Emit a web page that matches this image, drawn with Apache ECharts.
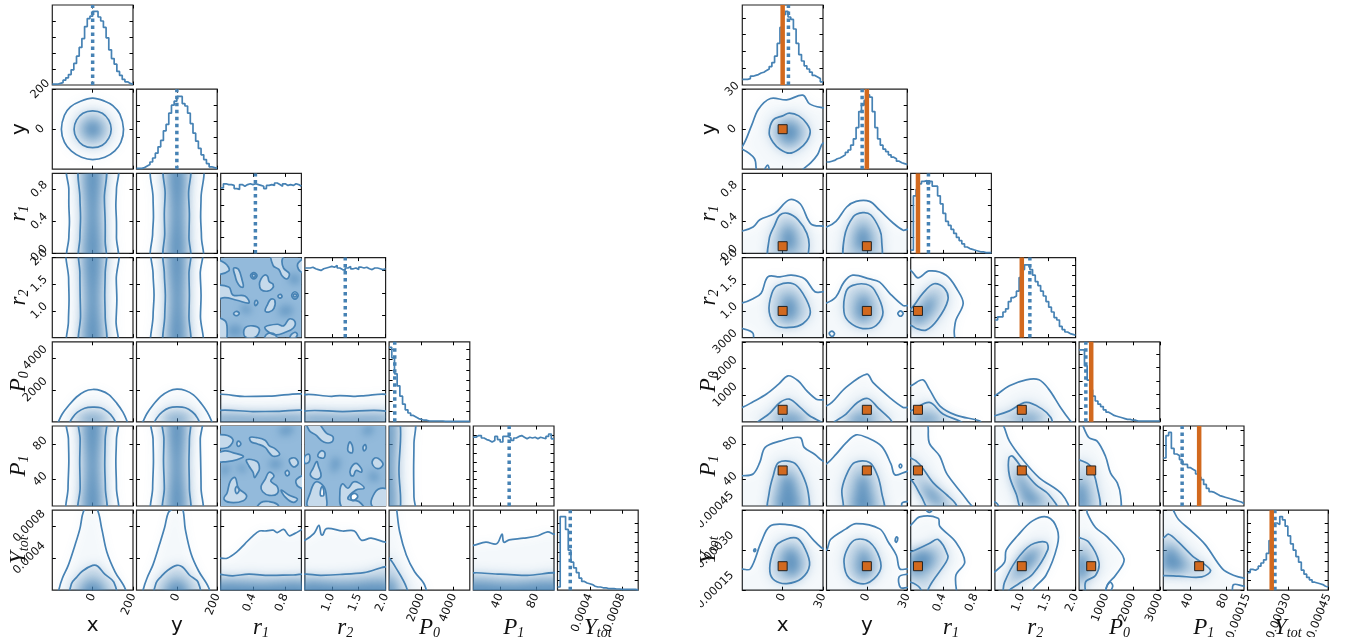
<!DOCTYPE html>
<html><head><meta charset="utf-8">
<style>html,body{margin:0;padding:0;background:#fff;overflow:hidden}#c{width:1348px;height:637px;filter:blur(0.35px)}</style>
<script src="https://cdn.jsdelivr.net/npm/echarts@6/dist/echarts.min.js"></script>
</head><body><div id="c"></div>
<script>
// ---------- parameters ----------
const paramKeys=['x','y','r1','r2','P0','P1','Yt'];
const L_ranges=[[-200,200],[-200,200],[0,1],[0.5,2],[0,5000],[10,100],[0,0.001]];
const R_ranges=[[-30,30],[-30,30],[0,1],[0.5,2],[0,3000],[10,100],[0.00015,0.00045]];
const L_xTicks=[[0,200],[0,200],[0.4,0.8],[1,1.5,2],[2000,4000],[40,80],[0.0004,0.0008]];
const L_yTicks=[[0,200],[0,200],[0,0.4,0.8],[1,1.5,2],[2000,4000],[40,80],[0.0004,0.0008]];
const R_xTicks=[[0,30],[0,30],[0.4,0.8],[1,1.5,2],[1000,2000,3000],[40,80],[0.00015,0.0003,0.00045]];
const R_yTicks=[[0,30],[0,30],[0,0.4,0.8],[1,1.5,2],[1000,2000,3000],[40,80],[0.00015,0.0003,0.00045]];
const L_digits=[0,0,1,1,0,0,4];
const R_digits=[0,0,1,1,0,0,5];
const L_yMargin=[12,12,13,13,17,12,23];
const R_yMargin=[10,10,13,13,17,12,27];
const axisNames=['x','y','{i|r}{s|1}','{i|r}{s|2}','{i|P}{s|0}','{i|P}{s|1}','{i|Y}{s|tot}'];
const ytotUnit=1e-4;

// ---------- histograms (height as percent of panel) ----------
const L_h_x=[1,1,2,3,6,9,13,19,27,36,47,58,73,83,86,92,92,85,80,72,59,44,33,26,17,12,7,4,2,1];
const L_h_y=[1,1,2,4,6,9,14,20,28,36,48,56,70,80,85,91,91,82,79,70,57,45,35,26,18,12,7,3,2,1];
const L_h_r1=[82,87,86,86,85,81,80,86,84,86,87,86,87,86,85,84,81,85,86,85,88,86,84,87,85,86,85,87,86,84];
const L_h_r2=[87,87,88,86,85,84,86,87,88,89,88,90,87,85,84,87,89,86,87,85,88,87,88,86,85,87,87,86,85,86];
const L_h_P0=[93,80,60,45,32,22,15,11,8,6,4,3,2,2,1,1,1,1,1,1,0.5,0.5,0.5,0.5,0.5,0.5,0.5,0.5,0.5,0.5];
const L_h_P1=[86,88,88,85,83,82,80,82,87,83,80,87,87,85,82,85,87,88,86,84,86,85,86,84,86,85,84,87,90,84];
const L_h_Yt=[4,92,92,76,50,35,28,22,15,11,9,8,7,5,4,4,3,3,2,2,2,1.5,1.5,1,1,1,1,1,1,0.5];
const R_h_x=[7,7,8,11,12,13,15,16,18,20,23,28,36,52,72,88,92,85,82,70,52,38,30,24,20,16,12,10,8,4];
const R_h_y=[9,10,11,13,14,16,18,21,24,30,38,52,72,80,86,93,90,72,52,38,30,25,22,18,15,13,10,8,7,6];
const R_h_r1=[4,72,80,87,90,91,87,90,84,84,72,62,50,40,35,30,25,20,16,12,8,6,5,4,3,2,2,1,1,1];
const R_h_r2=[22,26,26,32,36,45,50,52,58,75,85,91,91,85,78,70,65,58,52,45,38,32,25,22,14,10,7,5,4,3];
const R_h_P0=[90,90,70,52,40,32,26,22,19,15,12,10,8,7,6,5,4,3,3,2,2,1,1,1,1,1,1,1,1,1];
const R_h_P1=[60,88,92,72,65,63,58,52,52,48,46,44,40,36,33,27,22,18,17,15,13,12,11,10,9,8,7,6,5,3];
const R_h_Yt=[22,26,25,27,30,34,38,46,62,80,84,82,92,88,80,68,58,50,42,35,25,20,16,13,10,9,8,7,5,4];
const L_hTicks=[[20,40,60,80],[20,40,60,80],[20,40,60,80],[28,56,84],[13,26,39,52,65,78,91],[11,22,33,44,55,66,77,88],[12,24,36,48,60,72,84]];
const R_hTicks=[[21,42,63,84],[20,40,60,80],[20,40,60,80],[13,26,39,52,65,78,91],[17,34,51,68,85],[19,38,57,76,95],[12,24,36,48,60,72,84]];
const L_medians=[0,0,0.43,1.25,350,50,0.000158];
const R_medians=[4.3,-3.5,0.22,1.15,250,31,0.000252];
const R_truth=[0,0,0.09,1.0,450,50,0.00024];

// ---------- contours, left corner (Ytot in units of ytotUnit) ----------
const L_y_x={o:[[153,0,135,75,100,118,60,140,0,155,-60,140,-110,112,-140,70,-155,0,-140,-65,-105,-110,-55,-140,0,-152,60,-140,110,-108,140,-65]],
 i:[[92,0,80,45,48,80,0,92,-48,80,-80,45,-92,0,-80,-45,-48,-80,0,-92,48,-80,80,-45]],c:[[48,0,32,34,0,48,-34,34,-48,0,-34,-34,0,-48,34,-34]]};
const L_r1_x={o:[[-118,-.1,-118,.2,-115,.4,-118,.6,-118,.8,-120,1.1,118,1.1,118,.8,115,.6,118,.4,118,.2,116,-.1]],
 i:[[-62,-.1,-63,.2,-60,.45,-63,.7,-62,1.1,60,1.1,58,.7,62,.4,62,.15,60,-.1]],c:[[-34,-.1,-32,.5,-34,1.1,34,1.1,32,.5,34,-.1]]};
const L_r1_y={o:[[-118,-.1,-120,.25,-116,.45,-118,.7,-117,1.1,120,1.1,120,.7,118,.45,122,.2,120,-.1]],
 i:[[-60,-.1,-60,.25,-62,.5,-58,.75,-60,1.1,61,1.1,58,.75,62,.5,60,.2,61,-.1]],c:[[-34,-.1,-30,.5,-34,1.1,32,1.1,34,.5,32,-.1]]};
const L_r2_x={o:[[-118,.3,-120,.8,-117,1.2,-119,1.6,-118,2.2,118,2.2,117,1.6,120,1.2,116,.8,116,.3]],
 i:[[-62,.3,-60,.9,-62,1.3,-63,1.7,-61,2.2,60,2.2,62,1.7,60,1.3,62,.9,60,.3]],c:[[-36,.3,-32,1.2,-35,2.2,35,2.2,33,1.2,36,.3]]};
const L_r2_y={o:[[-115,.3,-118,.9,-113,1.3,-118,1.7,-116,2.2,118,2.2,116,1.7,120,1.3,117,.9,118,.3]],
 i:[[-60,.3,-60,.9,-57,1.3,-62,1.7,-60,2.2,62,2.2,60,1.7,62,1.3,60,.9,60,.3]],c:[[-34,.3,-30,1.2,-34,2.2,30,2.2,34,1.2,32,.3]]};
const L_P0_x={o:[[-172,-100,-168,50,-150,500,-120,1000,-80,1550,-40,1900,0,2020,40,1950,80,1700,120,1150,150,600,170,50,172,-100]],
 i:[[-110,-100,-100,250,-75,600,-40,850,0,920,40,880,75,620,100,280,110,-100]],c:[[-62,-100,-42,200,0,330,42,200,62,-100]]};
const L_P0_y={o:[[-172,-100,-166,60,-148,520,-118,1050,-78,1600,-38,1930,0,2040,42,1960,82,1680,122,1130,150,620,172,50,174,-100]],
 i:[[-108,-100,-98,260,-72,620,-38,870,0,930,42,880,76,630,100,280,108,-100]],c:[[-60,-100,-40,200,0,330,40,200,60,-100]]};
const L_r2_r1={bg:1,b:[[.5,1.4,.58,1.37,.64,1.42,.65,1.5,.6,1.55,.58,1.65,.54,1.67,.5,1.6,.48,1.5],
 [.16,1.8,.22,1.78,.27,1.55,.28,1.45,.24,1.46,.2,1.55,.18,1.65],
 [.63,2.1,.65,1.85,.72,1.78,.76,1.66,.82,1.6,.85,1.7,.78,1.8,.76,1.95,.8,2.1],
 [-.1,1.95,.05,1.9,.1,1.75,-.1,1.7],
 [-.1,1.45,.1,1.45,.15,1.3,.3,1.28,.35,1.15,.2,1.2,.05,1.25,-.1,1.2],
 [.55,1.0,.6,.98,.66,1.05,.67,1.2,.62,1.22,.58,1.12],
 [.55,.7,.7,.75,.78,.72,.85,.85,.92,.8,.9,.68,.8,.6,.68,.55,.58,.62],
 [.3,.52,.3,.68,.4,.72,.48,.65,.42,.5],[.55,.4,.56,.55,.65,.58,.7,.5,.72,.4],
 [-.1,.85,.05,.82,.08,.65,.05,.4,-.1,.4],[.86,.52,.92,.6,.95,.55,.9,.48],
 [.37,1.66,.41,1.72,.45,1.66,.41,1.6],[.88,1.29,.92,1.36,.96,1.29,.92,1.22],
 [.43,1.1,.46,1.15,.44,1.2,.42,1.15],[.16,.95,.2,.99,.23,.95,.19,.91],[.71,1.28,.74,1.31,.76,1.27,.73,1.24],[.96,1.9,1.1,2.0,1.1,1.7,.98,1.75]],
 m:[[.39,1.66,.41,1.69,.43,1.66,.41,1.63],[.9,1.29,.92,1.32,.94,1.29,.92,1.26]],
 d:[[.72,.95,.82,.9,.9,1.0,.85,1.1,.75,1.08],[.25,1.0,.35,.95,.38,1.05,.28,1.1],[.1,.55,.25,.55,.25,.7,.12,.72],[.85,1.55,.95,1.5,.98,1.62,.88,1.7]]};
const L_P1_x={o:[[-120,0,-122,30,-118,60,-120,85,-122,110,118,110,118,85,115,60,118,30,116,0]],
 i:[[-66,0,-62,30,-64,60,-62,85,-64,110,62,110,62,85,60,55,63,30,62,0]],c:[[-36,0,-32,55,-36,110,34,110,30,55,34,0]]};
const L_P1_y={o:[[-118,0,-120,30,-116,60,-118,85,-120,110,118,110,116,85,118,60,120,30,118,0]],
 i:[[-64,0,-62,30,-66,60,-64,85,-66,110,60,110,62,85,60,60,62,30,60,0]],c:[[-34,0,-30,55,-34,110,32,110,30,55,34,0]]};
const L_P1_r1={bg:1,b:[[.36,87,.44,87,.55,84,.6,78,.68,74,.73,68,.65,66,.6,70,.55,76,.45,80,.38,82],
 [-.1,88,.05,90,.15,85,.12,78,.05,75,-.1,76],[-.1,66,.05,72,.15,70,.28,66,.2,62,.08,60,-.1,60],
 [.32,62,.45,60,.48,52,.45,46,.42,42,.4,48,.35,55],[.08,25,.12,38,.18,42,.22,30,.32,22,.28,16,.12,14,.04,18],
 [.5,32,.52,26,.6,22,.7,24,.7,32,.62,38,.66,44,.6,48,.55,40],[.85,62,.92,64,.96,58,.9,54],[.8,48,.83,50,.85,46,.82,44],
 [.75,28,.85,22,.95,18,.9,14,.8,20],[.45,6,.5,14,.6,15,.7,12,.72,6],[.2,80,.22,83,.25,80,.22,77],[.94,40,1.1,45,1.1,30,.96,32]],
 m:[[.18,28,.2,32,.23,28,.2,24]],d:[[.72,92,.85,90,.9,98,.78,100],[.6,55,.72,52,.75,60,.64,62],[.22,50,.3,48,.3,55,.22,56],[.02,45,.1,48,.1,55,.02,55]]};
const L_P1_r2={bg:1,b:[[.55,105,.58,95,.7,90,.85,82,1.0,82,1.02,88,.9,92,.8,100,.75,105],
 [.74,66,.85,64,.87,70,.8,72],[1.3,72,1.38,70,1.38,78,1.33,82],[1.58,76,1.62,79,1.64,75,1.6,72],
 [1.35,45,1.35,52,1.45,58,1.55,52,1.55,48,1.45,50,1.4,44],[1.75,58,1.85,52,1.95,56,1.9,62,1.8,64],
 [.6,45,.72,40,.8,44,.75,55,.72,60,.65,52],[.55,10,.6,25,.7,37,.85,32,.9,20,.88,8],
 [1.2,8,1.15,25,1.2,35,1.3,30,1.4,37,1.5,36,1.6,30,1.45,28,1.3,18,1.5,15,1.6,6],[1.75,10,1.8,25,1.95,30,2.1,25,2.1,5],[.5,66,.58,68,.58,60,.5,58]],
 h:[[.79,22,.85,22,.83,32,.8,30],[1.38,16,1.48,20,1.44,24,1.36,22]],d:[[1.0,48,1.12,52,1.15,62,1.02,64],[1.6,90,1.75,92,1.75,100,1.6,98],[1.7,40,1.85,38,1.85,46,1.72,48]]};
const L_P1_P0={o:[[-300,0,1560,0,1540,20,1520,50,1540,80,1520,110,-300,110]],i:[[-300,0,620,0,610,50,615,110,-300,110]],c:[[-300,0,280,0,260,55,280,110,-300,110]]};
const L_P0_r1={o:[[-.1,1580,.3,1580,.6,1600,1.1,1590,1.1,-100,-.1,-100]],i:[[-.1,650,.4,640,.7,650,1.1,650,1.1,-100,-.1,-100]],c:[[-.1,250,.5,270,1.1,250,1.1,-100,-.1,-100]]};
const L_P0_r2={o:[[.4,1580,1.0,1590,1.15,1640,1.4,1590,1.55,1620,2.1,1590,2.1,-100,.4,-100]],i:[[.4,620,1.2,640,2.1,620,2.1,-100,.4,-100]],c:[[.4,250,1.2,270,2.1,250,2.1,-100,.4,-100]]};
const L_Yt_x={o:[[-172,-1,-166,.2,-150,1.5,-121,3.1,-88,5.6,-63,7.7,-46,9.8,-22,10.4,20,10.2,45,7.7,70,4.8,111,2.3,161,.2,164,-1]],
 i:[[-108,-1,-105,.8,-80,1.6,-50,2.4,0,3.1,25,3,60,2,105,1,112,-1]],c:[[-60,-1,-35,.9,0,1.2,35,.9,60,-1]]};
const L_Yt_y={o:[[-170,-1,-164,.3,-148,1.5,-118,3.2,-85,5.8,-60,7.9,-42,9.7,-15,10.2,25,10.4,42,7.6,70,4.6,108,2.4,158,.3,162,-1]],
 i:[[-108,-1,-103,.9,-78,1.7,-45,2.5,0,3.1,28,2.9,62,1.9,105,1,110,-1]],c:[[-58,-1,-35,.9,0,1.2,35,.9,58,-1]]};
const L_Yt_r1={o:[[-.1,4,0,4,.08,4,.2,4.8,.3,5.8,.4,6.8,.48,7.4,.55,7.4,.65,7.5,.7,7.2,.78,7.6,.85,6.8,.92,7.1,1.1,7.8,1.1,-1,-.1,-1]],
 i:[[-.1,1.8,.15,1.8,.35,2,.6,1.85,.9,1.9,1.1,1.85,1.1,-1,-.1,-1]],c:[[-.1,.8,.5,.9,1.1,.8,1.1,-1,-.1,-1]]};
const L_Yt_r2={o:[[.4,6.2,.5,6.25,.67,7.1,.76,8.1,.8,7,.83,6.9,.9,7.7,1.2,7.4,1.42,7.4,1.55,6.25,1.73,6.5,2,6,2.1,6,2.1,-1,.4,-1]],
 i:[[.4,1.8,.8,1.85,1.15,1.96,1.6,2.2,2.1,2.8,2.1,-1,.4,-1]],c:[[.4,.9,1.2,.9,2.1,.9,2.1,-1,.4,-1]]};
const L_Yt_P0={o:[[450,10.5,480,9.9,655,7.3,1065,4.4,1580,2.3,2190,.7,2250,-1,-300,-1,-300,10.5]],
 i:[[-300,4.2,0,4,450,2.7,1065,.4,1120,-1,-300,-1]],c:[[-300,1.5,220,1.2,450,-1,-300,-1]]};
const L_Yt_P1={o:[[0,5.5,10,5.6,24,6,36,5.8,42,7,44,6,50,6.3,66,6.5,82,6.8,93,7.3,100,7,110,7,110,-1,0,-1]],
 i:[[0,1.85,40,2,70,1.85,110,1.95,110,-1,0,-1]],c:[[0,.9,50,.9,110,.9,110,-1,0,-1]]};

// ---------- contours, right corner ----------
const R_y_x={o:[[-35,-15,-30,-13,-23,3,-18,15,-9,23,3,22,15,25.5,20,19,30,16,35,16,35,-12,30,-10.5,26,-19,21,-25,14,-31,10,-35,-8,-35,-11,-27,-15,-32,-19,-32,-21,-22,-30,-15]],
 i:[[-10,-3,-7,7,0,10,5,12,12,10,18,4,20.5,-2,18,-9,12,-15,5,-18,-2,-15,-7,-10]],c:[[-3,-3,0,4,5,6,11,3,13,-3,10,-9,5,-11,0,-9]]};
const R_r1_x={o:[[-35,.28,-30,.28,-22,.33,-17,.42,-6,.5,5,.67,13,.62,21,.37,30,.34,35,.34,35,-.1,-35,-.1]],
 i:[[-9.5,-.1,-10,.18,-6,.35,-2,.48,4,.5,11.5,.42,18,.25,19.6,.08,16,-.1]],c:[[0,.05,-1,.22,4,.36,9,.25,10,.08,5,.02]]};
const R_r1_y={o:[[-35,.33,-30,.33,-23,.4,-15,.58,-8,.65,2,.65,9.5,.54,19.5,.38,27,.29,30,.3,35,.3,35,-.1,-35,-.1]],
 i:[[-15.5,-.1,-16.7,.2,-10,.46,-3,.51,3,.48,9.5,.3,11,.17,9.5,-.1]],c:[[-8,.06,-8,.24,-3,.36,2,.25,3,.08,-2,.02]]};
const R_r2_x={o:[[-35,1.15,-30,1.15,-22,1.23,-16,1.33,-11,1.64,-2,1.64,6.5,1.67,16.5,1.6,24,1.36,30,1.36,35,1.36,35,.3,-21,.3,-22,.58,-30,.67,-35,.67]],
 i:[[-10,.98,-8,1.33,-3.4,1.48,7.8,1.51,15,1.33,20.6,.98,15,.76,5,.69,-4.6,.73]],c:[[0,.85,-1,1.1,3,1.3,8,1.25,11,1,7,.82]]};
const R_r2_y={o:[[-35,1.15,-30,1.15,-23,1.26,-17,1.54,-10.5,1.67,2,1.6,9.5,1.54,17,1.33,27,1.1,30,1.1,35,1.1,35,.3,-35,.3]],
 i:[[-17,.98,-15.5,1.36,-10.5,1.48,-.5,1.5,5.7,1.39,12,.98,7,.73,-3,.67,-13,.79]],c:[[-7,.85,-8,1.1,-4,1.3,1,1.25,3,1,0,.82]],m:[[23,.95,25,1.0,27,.95,25,.9],[-28,.58,-26,.62,-24,.57,-26,.52]]};
const R_r2_r1={o:[[-.1,1.76,0,1.76,.09,1.62,.23,1.75,.44,1.67,.58,1.39,.65,1.14,.56,.83,.54,.64,.52,.3,-.1,.3]],
 i:[[-.1,.7,0,.73,.07,.67,.19,.64,.33,.83,.46,1.2,.42,1.42,.29,1.51,.15,1.33,0,1.04,-.1,1.04]],c:[[0,.8,.1,.78,.22,.92,.3,1.15,.27,1.3,.17,1.15,.08,.98,0,.92]]};
const R_P0_x={o:[[-35,500,-30,540,-22,750,-12,1040,-3,1410,4,1725,11.5,1540,18,1160,25,850,30,825,35,825,35,-100,-35,-100]],
 i:[[-18,-50,-9.5,325,-2,725,5,850,13,540,20,225,29,-50]],c:[[-3,-100,-2,180,7,260,15,100,18,-100]]};
const R_P0_y={o:[[-35,580,-30,600,-26,725,-15.5,1290,0,1790,4.5,1475,17,910,27,540,30,540,35,540,35,-100,-35,-100]],
 i:[[-24,-50,-15.5,290,-7,725,.7,875,8,540,18,-50]],c:[[-14,-100,-10,160,-3,260,3,120,6,-100]]};
const R_P0_r1={o:[[-.1,1300,0,1350,.15,1575,.23,1225,.36,600,.56,250,.85,40,.87,-50,-.1,-50]],
 i:[[-.1,380,0,410,.23,725,.4,290,.6,40,.64,-50,-.1,-50]],c:[[.02,-50,.05,130,.2,240,.34,100,.4,-50]]};
const R_P0_r2={o:[[.4,900,.5,975,.77,1350,1.08,1575,1.32,1575,1.5,1225,1.72,540,1.9,40,1.95,-50,.4,-50]],
 i:[[.4,200,.5,225,.77,410,1.08,725,1.38,475,1.54,160,1.55,-50,.4,-50]],c:[[.85,-50,.95,130,1.2,220,1.32,100,1.35,-50]]};
const R_P1_x={o:[[-35,44,-30,44,-22,46,-17,59,-13,76,-2,83,13,87,16,76,24,68,30,60.6,35,60,35,0,-35,0]],
 i:[[-10,4,-10,25,-7,44,-3,59,8,59,14,47.5,19,25,18,4]],c:[[-4,4,-3,25,1,45,6,45,11,25,12,4]]};
const R_P1_y={o:[[-35,56,-30,57.5,-23,68,-15.5,81,-8,90,0,87,11,77,18,57,21,45,30,49,35,49,35,14,30,15,26,13,26,0,-35,0]],
 i:[[-17.5,12,-18.5,29,-14,49,-9,59,2,59,8,44,11,25,12,4,-17,4]],c:[[-10,4,-9,25,-5,45,-1,45,3,25,4,4]],m:[[24,55,25,57,26,55,25,53]]};
const R_P1_r1={o:[[-.1,105,.19,105,.23,81,.36,66,.44,47.5,.56,32.5,.69,17.5,.77,5,-.1,5]],
 i:[[-.1,64,0,64,.11,57,.28,36,.44,23,.56,12,.56,5,.24,5,.13,21,0,40,-.1,40]],c:[[.08,32,.14,30,.26,15,.42,12,.34,22,.22,32]]};
const R_P1_r2={o:[[.4,108,.62,104,.77,83,1.02,62,1.32,42,1.75,23,1.85,5,.62,5,.55,12,.5,14.5,.4,16]],
 i:[[.76,64,.83,66,1.02,51,1.26,34,1.5,23,1.66,5,1.02,5,.9,23,.77,44]],c:[[.9,45,.98,45,1.16,28,1.38,14,1.1,12,.98,26]]};
const R_P1_P0={o:[[-100,105,50,105,360,87,670,83,980,66,1170,47,1420,36,1545,21,1480,5,-100,5]],
 i:[[-100,62,0,62,420,55,670,32,735,5,-100,5]],c:[[-100,38,200,35,330,18,320,5,-100,5]]};
const R_Yt_x={o:[[-35,2.29,-30,2.29,-24,2.3,-16,3.3,-9.5,3.9,3,3.96,15,3.8,22.6,3.4,30,3.06,35,3.06,35,1,-35,1]],
 i:[[-9.5,2.2,-8,2.8,-3.4,3.25,10,3.46,16.6,3.06,20,2.44,14,1.94,3,1.75,-6,1.87]],c:[[0,2.3,1,2.9,6,3.1,12,2.8,13,2.3,7,2]],m:[[-21.5,3.0,-20.5,3.05,-20,3,-21,2.95]]};
const R_Yt_y={o:[[-35,3,-30,3,-27,3.4,-15.5,3.8,-8,4,9.5,3.8,16,3.3,22,2.8,24.5,2.3,30,2.3,35,2.3,35,2.1,30,2.1,24,2,25,1.6,30,1.6,35,1.6,35,1,-35,1]],
 i:[[-17,2.56,-14,3.1,-8,3.4,2,3.3,9.5,2.7,9.5,2.2,-.5,1.75,-13,1.94]],c:[[-7,2.2,-6,2.8,-2,3.05,2,2.7,3,2.2,-2,2]],m:[[21,3.35,22,3.5,23,3.45,22,3.3]]};
const R_Yt_r1={o:[[-.1,3.8,0,3.94,.11,4.25,.34,4.2,.36,3.9,.56,3.3,.67,2.56,.56,2.06,.54,1,-.1,1]],
 i:[[-.1,2.9,0,2.94,.23,3.25,.34,3.4,.46,2.8,.44,2.56,.22,1.56,.21,1,.11,1.6,0,1.8,-.1,1.8]],c:[[0,2.2,.02,2.85,.2,3,.3,2.7,.18,2.2,.06,2.05]],m:[[.2,4.48,.23,4.55,.26,4.48,.23,4.42]]};
const R_Yt_r2={o:[[.4,2.1,.5,2.2,.68,2.55,.71,3,.92,3.54,1.2,4.1,1.48,4.24,1.66,3.78,1.66,3.17,1.45,2.06,1.2,1.5,1.15,1,.4,1]],
 i:[[.62,1,.65,1.44,.68,1.8,.89,2.6,1.17,3.2,1.45,3.3,1.48,3,1.2,2.1,.95,1.75,.72,1.4,.7,1]],c:[[.85,2,.95,2.5,1.1,2.9,1.3,3,1.25,2.6,1.05,2.2]]};
const R_Yt_P0={o:[[-100,4.6,280,4.6,300,4.4,610,3.85,1045,3.5,1670,2.67,1350,2.05,1050,1.7,850,1,-100,1]],
 i:[[-100,3.45,0,3.47,360,3.3,735,2.55,610,2.05,235,1.8,260,1,-100,1]],c:[[-100,2.9,180,2.8,370,2.4,280,2.1,100,1.9,-100,1.9]],m:[[1000,1.55,1150,1.8,1250,1.65,1100,1.4]]};
const R_Yt_P1={o:[[0,4.6,20,4.6,21.6,4.47,27,4.15,42,3.7,57,3.2,76,2.3,89,2.05,100,1.95,105,1.95,105,1.65,100,1.65,88,1.7,85,1,0,1]],
 i:[[0,3.47,10,3.47,16,3.6,27,3.3,42,2.8,62.6,2.25,53,2,27,2.03,12,2.05,0,2.05]],c:[[10,2.3,12,3.05,20,3.1,30,2.7,36,2.35,22,2.2]]};

const panels={L_y_x,L_r1_x,L_r1_y,L_r2_x,L_r2_y,L_r2_r1,L_P0_x,L_P0_y,L_P0_r1,L_P0_r2,L_P1_x,L_P1_y,L_P1_r1,L_P1_r2,L_P1_P0,L_Yt_x,L_Yt_y,L_Yt_r1,L_Yt_r2,L_Yt_P0,L_Yt_P1,
 R_y_x,R_r1_x,R_r1_y,R_r2_x,R_r2_y,R_r2_r1,R_P0_x,R_P0_y,R_P0_r1,R_P0_r2,R_P1_x,R_P1_y,R_P1_r1,R_P1_r2,R_P1_P0,R_Yt_x,R_Yt_y,R_Yt_r1,R_Yt_r2,R_Yt_P0,R_Yt_P1};

// ---------- build ----------
const COL='#4682b4', ORANGE='#d2691e', OFF=3000, A='70,130,180';
const chunk=a=>{const r=[];for(let i=0;i<a.length;i+=2)r.push([a[i],a[i+1]]);return r;};
const option={animation:false,grid:[],xAxis:[],yAxis:[],series:[],
 graphic:[{type:'rect',silent:true,z:100,shape:{x:660,y:0,width:40,height:637},style:{fill:'#fff'}}]};
const richName={i:{fontFamily:'Liberation Serif',fontStyle:'italic',fontSize:23,color:'#111'},s:{fontFamily:'Liberation Serif',fontStyle:'italic',fontSize:14,color:'#111',verticalAlign:'bottom',padding:[10,0,0,0]}};
const soft=(alpha,blur)=>({soft:1,style:{fill:'#000',shadowBlur:blur,shadowOffsetX:OFF,shadowColor:'rgba('+A+','+alpha+')'}});
function build(side,ranges,xT,yT,digits,yMargin,hists,hT,meds,truth,x0){
 const pitch=84.2,W=80.7,H=80;
 for(let r=0;r<7;r++)for(let c=0;c<=r;c++){
  const g=option.grid.length;
  option.grid.push({left:x0+pitch*c,top:5+pitch*r,width:W,height:H,show:true,borderColor:'#222',borderWidth:1.2,backgroundColor:'#fff',containLabel:false,outerBoundsMode:'none'});
  const isH=r===c, xr=ranges[c], yr=isH?[0,100]:ranges[r], yt=isH?hT[c]:yT[r];
  const xi=option.xAxis.length, yi=option.yAxis.length;
  const tick=(v)=>({show:true,inside:true,length:3.5,lineStyle:{color:'#000',width:1},customValues:v});
  const line={show:false,onZero:false};
  const xb={gridIndex:g,type:'value',min:xr[0],max:xr[1],position:'bottom',splitLine:{show:false},axisLine:line,axisTick:tick(xT[c]),axisLabel:{show:false}};
  const yb={gridIndex:g,type:'value',min:yr[0],max:yr[1],position:'left',splitLine:{show:false},axisLine:line,axisTick:tick(yt),axisLabel:{show:false}};
  if(r===6){
   xb.axisLabel={show:true,customValues:xT[c],rotate:68,align:'right',verticalAlign:'middle',margin:4,fontSize:11.5,fontFamily:'DejaVu Sans',color:'#111',formatter:v=>v.toFixed(digits[c])};
   xb.name=axisNames[c];xb.nameLocation='middle';xb.nameGap=26;xb.nameMoveOverlap=false;
   xb.nameTextStyle={fontFamily:'DejaVu Sans',fontSize:20,color:'#111',rich:richName};
  }
  if(c===0&&r>0){
   yb.axisLabel={show:true,customValues:yT[r],rotate:45,align:'center',verticalAlign:'middle',margin:yMargin[r],fontSize:11.5,fontFamily:'DejaVu Sans',color:'#111',formatter:v=>v.toFixed(digits[r])};
   yb.name=axisNames[r];yb.nameLocation='middle';yb.nameRotate=90;yb.nameGap=r<2?23:21;yb.nameMoveOverlap=false;
   yb.nameTextStyle={fontFamily:'DejaVu Sans',fontSize:20,color:'#111',rich:richName};
  }
  option.xAxis.push(xb);option.yAxis.push(yb);
  option.xAxis.push({gridIndex:g,type:'value',min:xr[0],max:xr[1],position:'top',splitLine:{show:false},axisLine:line,axisLabel:{show:false},axisTick:tick(xT[c])});
  option.yAxis.push({gridIndex:g,type:'value',min:yr[0],max:yr[1],position:'right',splitLine:{show:false},axisLine:line,axisLabel:{show:false},axisTick:tick(yt)});
  const on={xAxisIndex:xi,yAxisIndex:yi};
  if(isH){
   const vals=hists[c],w=(xr[1]-xr[0])/vals.length;
   const data=vals.map((v,i)=>[xr[0]+i*w,v]);data.push([xr[1],vals[vals.length-1]]);
   option.series.push(Object.assign({type:'line',step:'end',data,symbol:'none',silent:true,clip:true,lineStyle:{color:COL,width:1.7}},on));
   option.series.push(Object.assign({type:'line',data:[[meds[c],0],[meds[c],100]],symbol:'none',silent:true,lineStyle:{color:COL,width:3.5,type:[3.5,3.5]},z:3},on));
   if(truth)option.series.push(Object.assign({type:'line',data:[[truth[c],0],[truth[c],100]],symbol:'none',silent:true,lineStyle:{color:ORANGE,width:4.5},z:4},on));
  }else{
   const P=panels[side+'_'+paramKeys[r]+'_'+paramKeys[c]];
   const sc=(pts)=>chunk(pts).map(q=>[q[0],r===6?q[1]*ytotUnit:q[1]]);
   const items=[];
   if(P.bg){
     items.push({p:[[xr[0],yr[0]],[xr[1],yr[0]],[xr[1],yr[1]],[xr[0],yr[1]]],s:0,style:{fill:'#93badb'}});
     (P.d||[]).forEach(p=>items.push(Object.assign({p:chunk(p),s:.5},soft(.5,7))));
     (P.b||[]).forEach(p=>items.push({p:chunk(p),s:.4,style:{fill:'#c6daeb'}}));
     (P.h||[]).forEach(p=>items.push({p:chunk(p),s:.4,style:{fill:'#fff'}}));
     (P.b||[]).concat(P.h||[]).concat(P.m||[]).forEach(p=>items.push({p:chunk(p),s:.4,style:{fill:'none',stroke:COL,lineWidth:1.7}}));
   }else{
     (P.o||[]).forEach(p=>items.push(Object.assign({p:sc(p),s:.35},soft(.06,12))));
     (P.i||[]).forEach(p=>items.push(Object.assign({p:sc(p),s:.35},soft(.3,12))));
     (P.c||[]).forEach(p=>items.push(Object.assign({p:sc(p),s:.4},soft(.78,11))));
     (P.o||[]).concat(P.i||[]).concat(P.m||[]).forEach(p=>items.push({p:sc(p),s:.35,style:{fill:'none',stroke:COL,lineWidth:1.7}}));
   }
   option.series.push(Object.assign({type:'custom',silent:true,clip:true,data:items.map((_,i)=>[xr[0],yr[0],i]),encode:{x:0,y:1},
     renderItem:(params,api)=>{const it=items[params.dataIndex];
       const pts=it.p.map(q=>{const a=api.coord(q);return it.soft?[a[0]-OFF,a[1]]:a;});
       return {type:'polygon',shape:{points:pts,smooth:it.s},style:it.style};}},on));
   if(truth)option.series.push(Object.assign({type:'scatter',silent:true,symbol:'rect',symbolSize:9,z:6,data:[[truth[c],truth[r]]],itemStyle:{color:ORANGE,borderColor:'#222',borderWidth:1,opacity:1}},on));
  }
 }
}
build('L',L_ranges,L_xTicks,L_yTicks,L_digits,L_yMargin,[L_h_x,L_h_y,L_h_r1,L_h_r2,L_h_P0,L_h_P1,L_h_Yt],L_hTicks,L_medians,null,52.3);
build('R',R_ranges,R_xTicks,R_yTicks,R_digits,R_yMargin,[R_h_x,R_h_y,R_h_r1,R_h_r2,R_h_P0,R_h_P1,R_h_Yt],R_hTicks,R_medians,R_truth,742.3);
const chart=echarts.init(document.getElementById('c'),null,{renderer:'canvas'});
chart.setOption(option);
</script>
</body></html>
